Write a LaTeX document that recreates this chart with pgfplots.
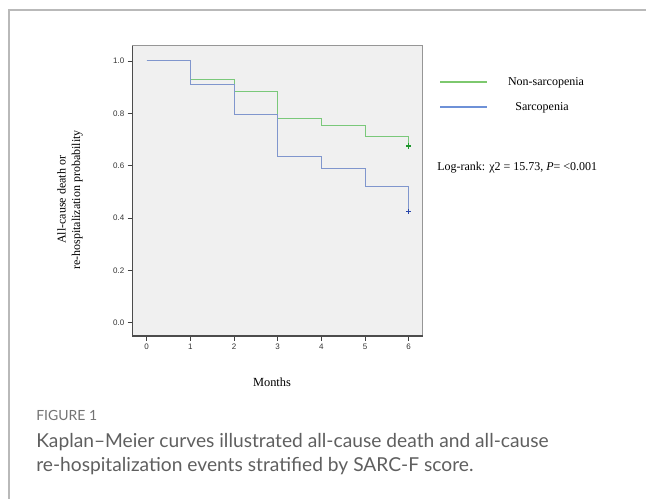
\documentclass[border=0pt]{standalone}
\usepackage{fontspec}
\setmainfont{Liberation Serif}
\newfontfamily\arial{Liberation Sans}
\newfontfamily\capfont{Lato}
\usepackage{pgfplots}
\pgfplotsset{compat=1.18}

\definecolor{kmgreen}{RGB}{122,200,122}
\definecolor{kmgreendk}{RGB}{30,150,45}
\definecolor{kmblue}{RGB}{128,150,205}
\definecolor{kmbluedk}{RGB}{40,70,170}
\definecolor{leggreen}{RGB}{125,200,110}
\definecolor{legblue}{RGB}{110,145,215}
\definecolor{captxt}{RGB}{95,95,95}
\definecolor{capfig}{RGB}{115,115,115}

\begin{document}
\begin{tikzpicture}
\path[use as bounding box] (0,0) rectangle (484.5pt,374.25pt);
% outer frame (left and top only)
\draw[draw={rgb,255:red,185;green,185;blue,185}, line width=1.2pt]
  (6.75pt,0) -- (6.75pt,366.75pt) -- (484.5pt,366.75pt);

\begin{axis}[
  at={(99.2pt,122.25pt)}, anchor=south west,
  width=217.8pt, height=217.7pt, scale only axis,
  xmin=-0.33, xmax=6.32, ymin=-0.051, ymax=1.058,
  xtick={0,...,6}, ytick={0,0.2,...,1.0},
  axis background/.style={fill={rgb,255:red,240;green,240;blue,240}},
  axis line style={draw={rgb,255:red,150;green,150;blue,150}, line width=0.6pt},
  tick align=outside, major tick length=3.5pt,
  tick style={black!75, line width=0.6pt},
  xtick pos=bottom, ytick pos=left,
  tick label style={font=\arial\fontsize{6}{7}\selectfont, black!80},
  /pgf/number format/assume math mode=true,
  yticklabel style={/pgf/number format/fixed, /pgf/number format/fixed zerofill,
    /pgf/number format/precision=1, xshift=1pt},
  xticklabel style={yshift=1pt},
  after end axis/.code={
    \draw[black!70, line width=0.8pt] (rel axis cs:0,1) -- (rel axis cs:0,0) -- (rel axis cs:1,0);
  },
]
% Non-sarcopenia
\addplot[const plot, kmgreen, line width=0.75pt] coordinates {
  (0,1.000) (1,0.930) (2,0.884) (3,0.779) (4,0.753) (5,0.713) (6,0.675)};
\addplot[only marks, mark=+, mark size=2pt, kmgreendk, line width=0.8pt] coordinates {(6,0.675)};
% Sarcopenia
\addplot[const plot, kmblue, line width=0.75pt] coordinates {
  (0,1.000) (1,0.909) (2,0.794) (3,0.634) (4,0.589) (5,0.520) (6,0.424)};
\addplot[only marks, mark=+, mark size=2pt, kmbluedk, line width=0.8pt] coordinates {(6,0.424)};
\end{axis}

% legend
\draw[leggreen, line width=1pt] (330pt,312.75pt) -- (365.25pt,312.75pt);
\draw[legblue, line width=1pt] (330pt,294pt) -- (365.25pt,294pt);
\node[font=\fontsize{9}{10}\selectfont, inner sep=0pt] at (409.5pt,312.5pt) {Non-sarcopenia};
\node[font=\fontsize{9}{10}\selectfont, inner sep=0pt] at (406.5pt,293.5pt) {Sarcopenia};
\node[font=\fontsize{9}{10}\selectfont, inner sep=0pt, anchor=west] at (327.75pt,248.25pt)
  {Log-rank: χ2 = 15.73, \textit{P}= <0.001};

% axis titles
\node[font=\fontsize{9}{11}\selectfont, rotate=90, align=center, inner sep=0pt]
  at (52.5pt,224.25pt) {All-cause death or\\re-hospitalization probability};
\node[font=\fontsize{9.3}{10}\selectfont, inner sep=0pt] at (204pt,87.2pt) {Months};

% caption
\node[font=\capfont\fontsize{10.5}{12}\selectfont, text=capfig, anchor=base west, inner sep=0pt]
  at (27pt,58.5pt) {FIGURE 1};
\node[font=\capfont\fontsize{14.4}{16}\selectfont, text=captxt, anchor=base west, inner sep=0pt]
  at (27pt,38.25pt) {Kaplan–Meier curves illustrated all-cause death and all-cause};
\node[font=\capfont\fontsize{14.4}{16}\selectfont, text=captxt, anchor=base west, inner sep=0pt]
  at (27pt,20.25pt) {re-hospitalization events stratified by SARC-F score.};
\end{tikzpicture}
\end{document}
